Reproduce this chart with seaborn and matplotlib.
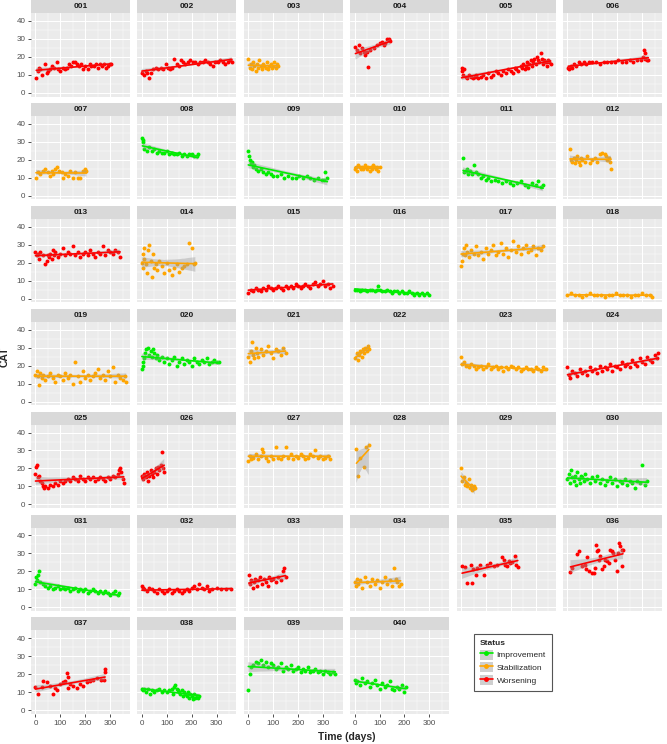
import numpy as np
import pandas as pd
import matplotlib
matplotlib.use("Agg")
import matplotlib.pyplot as plt
import seaborn as sns
from matplotlib.patches import Rectangle, Patch
from matplotlib.lines import Line2D
from matplotlib.collections import PolyCollection
from matplotlib.legend_handler import HandlerTuple

# ---------------- data ----------------
panel_ids = ["%03d" % i for i in range(1, 41)]
panel_status = ["W", "W", "S", "W", "W", "W",
                "S", "I", "I", "S", "I", "S",
                "W", "S", "W", "I", "S", "S",
                "S", "I", "S", "S", "S", "W",
                "W", "W", "S", "S", "S", "I",
                "I", "W", "W", "S", "W", "W",
                "W", "I", "I", "I"]
status_names = {"I": "Improvement", "S": "Stabilization", "W": "Worsening"}
status_colors = {"Improvement": "#00EE00", "Stabilization": "#FFA500", "Worsening": "#FF0000"}

d001 = [3,10,15,20,28,38,45,52,60,68,75,85,92,100,110,118,125,135,142,150,160,168,175,185,192,200,210,218,225,235,242,250,260,268,275,285,292,300,305]
c001 = [8,12,14,13,10,16,11,12,13,15,14,17,13,12,14,13,14,16,15,17,17,16,15,16,13,15,13,16,15,15,16,14,16,15,16,14,15,16,16]
d002 = [0,8,15,22,30,38,45,55,65,75,85,95,105,112,120,130,140,150,158,165,175,185,195,205,215,225,235,245,255,265,275,285,295,305,315,325,335,345,355,362]
c002 = [11,10,12,11,8,11,13,14,13,14,13,16,14,13,14,19,16,15,18,17,16,17,18,17,17,16,17,17,18,17,16,15,17,17,18,17,16,17,18,17]
d003 = [0,5,10,15,20,25,30,35,40,45,50,55,60,65,70,75,80,85,90,95,100,105,110,115,120]
c003 = [19,14,16,13,17,15,12,16,14,18,15,13,16,15,14,17,13,15,16,14,15,17,14,16,15]
d004 = [3,10,16,23,30,36,43,50,54,63,76,90,103,110,116,123,130,136,143]
c004 = [25.6,23.8,26.6,22.0,24.7,22.9,21.1,22.9,14.1,23.8,24.7,26.6,27.5,28.4,26.6,27.9,29.7,30.2,29.0]
d005 = [2,5,8,12,18,25,32,40,48,55,62,70,80,90,100,110,120,130,140,150,160,170,180,190,200,210,215,220,230,240,245,250,255,260,265,270,275,280,285,290,295,300,305,310,315,320,325,330,335,340,345,350,355,360]
c005 = [14,12,10,13,9,8,10,9,8,9,10,8,9,10,8,11,9,10,12,11,10,12,11,13,12,11,14,13,12,15,14,16,13,15,17,14,16,18,15,17,19,16,20,18,17,22,19,16,18,17,15,18,17,16]
d006 = [3,8,14,20,28,35,45,55,65,75,85,100,115,130,145,160,175,190,205,220,235,250,265,280,295,305,308,310,312,318,325]
c006 = [14,13,15,14,16,15,17,16,17,16,17,17,17,16,17,17,17,17,18,17,17,18,17,18,18,20,24,22,19,18,18]
d007 = [2,10,20,30,40,50,58,65,72,80,88,95,105,112,120,130,140,150,160,170,180,190,200,205]
c007 = [10,13,12,14,15,13,11,14,12,15,16,14,13,10,12,11,14,10,13,10,10,14,15,14]
d008 = [2,4,6,10,20,30,40,50,60,70,80,90,100,110,120,130,140,150,160,170,180,190,200,210,220,225]
c008 = [32,31,30,26,25,27,25,26,24,25,24,24,25,23,24,23,23,24,22,23,22,23,23,22,22,23]
d009 = [0,3,6,10,15,20,25,30,40,50,60,70,80,90,100,115,130,145,160,175,190,205,220,235,250,265,280,295,305,310,318]
c009 = [25,22,20,18,19,16,17,15,14,15,13,12,13,12,11,11,12,10,11,10,10,11,10,11,10,9,10,9,9,13,10]
d010 = [0,5,10,15,20,25,30,35,40,45,50,55,60,65,70,75,80,85,90,95,100]
c010 = [15,16,14,17,16,15,16,15,17,16,15,16,14,16,15,17,16,15,16,14,16]
d011 = [8,12,18,22,28,35,45,53,60,70,80,90,100,110,120,135,150,165,180,195,210,225,240,255,270,285,300,310,320,330]
c011 = [21,13,14,15,12,14,12,17,13,12,10,11,9,10,8,9,8,7,8,7,6,7,8,6,5,7,6,8,5,6]
d012 = [10,15,20,25,30,35,40,45,50,55,60,70,80,90,100,110,120,130,140,150,155,160,165,170,175]
c012 = [26,20,19,21,18,20,22,19,17,21,20,19,22,18,20,21,19,23,24,23,22,20,21,19,15]
d013 = [0,5,10,15,20,30,40,45,50,55,60,65,70,75,80,90,100,110,120,130,140,150,160,170,180,190,200,210,220,230,240,250,260,270,280,290,300,310,320,330,340]
c013 = [26,24,25,22,26,24,19,21,24,23,25,22,27,24,26,23,25,28,24,26,25,29,24,26,23,25,26,24,27,25,23,26,25,29,24,27,26,25,27,26,23]
d014 = [0,3,5,8,10,15,20,25,30,35,40,45,50,55,60,70,80,90,100,110,120,130,140,150,160,170,180,190,200,210,215]
c014 = [20,25,17,28,22,19,14,27,30,21,12,25,17,19,16,21,18,14,20,16,13,17,19,15,17,18,19,31,28,19,20]
d015 = [0,10,20,30,40,50,60,70,80,90,100,110,120,130,140,150,160,170,180,190,200,210,220,230,240,250,260,270,280,290,300,310,320,330,340]
c015 = [3,5,4,6,5,4,6,5,7,6,5,6,7,6,5,7,6,7,6,8,7,6,7,8,7,6,8,9,7,8,10,7,8,6,7]
d016 = [0,10,20,30,40,50,60,70,80,90,95,100,110,120,130,140,150,160,170,180,190,200,210,220,230,240,250,260,270,280,290,300]
c016 = [5,5,4,5,5,4,5,5,4,5,7,5,4,4,5,4,3,4,4,3,4,3,3,4,3,2,3,2,3,2,3,2]
d017 = [0,3,6,10,15,20,25,30,40,50,60,70,80,90,100,110,120,130,140,150,160,170,180,190,200,210,220,230,240,250,260,270,280,290,300,310,320,330]
c017 = [18,21,25,28,24,30,26,23,27,25,29,24,26,22,28,25,27,30,24,26,31,25,28,23,27,32,26,29,25,28,30,26,27,29,24,28,27,29]
d018 = [0,15,30,45,60,75,90,105,120,135,150,165,180,195,210,225,240,255,270,285,300,315,330,340]
c018 = [2,3,2,2,1,2,3,2,2,2,1,2,2,3,2,2,2,1,2,2,3,2,2,1]
d019 = [0,5,10,15,20,25,30,40,50,60,70,80,90,100,110,120,130,140,150,160,170,180,190,200,210,220,230,240,250,260,270,280,290,300,310,320,330,340,350,360,365]
c019 = [15,17,14,9,16,13,15,12,14,16,13,11,15,14,12,16,13,15,10,22,14,11,17,13,15,12,14,16,18,13,15,12,17,14,19,11,15,13,12,14,11]
d020 = [0,3,5,8,12,18,25,30,35,40,45,50,55,60,70,80,90,100,110,120,130,140,150,160,170,180,190,200,210,220,230,240,250,260,270,280,290,300,310]
c020 = [18,22,20,24,27,29,30,26,28,25,29,27,24,26,23,25,22,24,21,23,25,20,22,24,21,23,22,20,24,22,21,23,22,24,21,22,23,22,22]
d021 = [0,5,10,15,20,25,30,35,40,50,60,70,80,90,100,110,120,130,140,150]
c021 = [25,22,28,33,26,24,30,27,25,29,26,28,31,27,24,29,28,26,30,27]
d022 = [2,8,12,18,22,28,32,38,42,48,52,58]
c022 = [24,27,23,26,28,25,29,27,30,28,31,29]
d023 = [0,5,10,20,30,40,50,60,70,80,90,100,110,120,130,140,150,160,170,180,190,200,210,220,230,240,250,260,270,280,290,300,310,320,330,340]
c023 = [25,21,22,20,19,21,20,18,19,20,18,19,21,18,19,20,18,19,17,19,18,20,19,18,19,17,18,19,18,18,17,19,18,17,19,18]
d024 = [0,5,10,20,30,40,50,60,70,80,90,100,110,120,130,140,150,160,170,180,190,200,210,220,230,240,250,260,270,280,290,300,310,320,330,340,350,360,365]
c024 = [19,15,13,17,16,14,18,16,17,15,19,17,18,16,20,17,19,18,21,17,20,19,18,22,20,21,19,23,21,20,24,22,21,25,23,22,26,24,27]
d025 = [0,3,6,10,15,20,25,30,35,40,50,60,70,80,90,100,110,120,130,140,150,160,170,180,190,200,210,220,230,240,250,260,270,280,290,300,310,320,330,335,340,345,350,355]
c025 = [17,21,22,15,16,13,12,10,9,10,9,11,10,12,11,13,12,13,14,13,15,14,13,16,14,13,15,14,15,13,14,15,14,13,15,14,16,15,17,19,20,18,14,12]
d026 = [0,5,10,15,20,25,30,35,40,45,50,55,60,65,70,75,80,85,90]
c026 = [16,14,17,15,18,13,16,19,17,15,18,20,17,21,19,22,29,20,18]
d027 = [0,5,10,20,30,40,50,55,60,70,80,90,100,110,120,130,140,150,160,170,180,190,200,210,220,230,240,250,260,270,280,290,300,310,320,330]
c027 = [24,27,25,26,28,25,27,31,29,26,24,27,25,32,26,25,27,32,26,28,25,27,26,28,27,25,26,28,27,30,26,27,25,26,27,25]
d028 = [7,12,21,39,47,57]
c028 = [31,16,26,21,32,33]
d029 = [0,5,10,15,20,25,30,35,40,45,50,55]
c029 = [20,13,15,11,12,10,14,9,11,8,10,9]
d030 = [0,5,10,15,20,25,30,35,40,45,50,55,60,65,70,80,90,100,110,120,130,140,150,160,170,180,190,200,210,220,230,240,250,260,270,280,290,300,310,320]
c030 = [14,17,12,19,15,13,16,11,18,14,12,16,15,13,17,14,12,15,13,16,12,14,11,13,15,12,14,10,13,12,14,11,13,12,9,13,12,22,11,13]
d031 = [0,3,6,10,15,20,30,40,50,60,70,80,90,100,110,120,130,140,150,160,170,180,190,200,210,220,230,240,250,260,270,280,290,300,310,320,330,335]
c031 = [13,17,15,18,20,14,13,12,11,12,10,11,12,10,11,10,11,9,10,11,9,10,9,10,8,9,10,9,8,9,8,9,8,7,8,9,7,8]
d032 = [0,5,10,20,30,40,50,60,70,80,90,100,110,120,130,140,150,160,170,180,190,200,210,220,230,240,250,260,270,280,300,320,340,360]
c032 = [12,11,10,9,11,10,9,8,10,9,8,9,10,8,9,10,9,8,9,10,9,11,12,10,13,11,10,12,9,10,11,10,10,10]
d033 = [2,8,12,18,22,28,35,40,48,55,62,70,78,85,92,100,110,120,130,140,145,150]
c033 = [18,13,15,11,14,16,12,15,17,13,16,14,12,17,15,16,14,17,15,20,22,17]
d034 = [0,5,10,15,20,30,40,50,60,70,80,90,100,110,120,130,140,150,160,165,170,180,185]
c034 = [14,12,16,13,15,11,17,14,12,16,13,15,11,14,17,13,15,12,22,16,14,12,13]
d035 = [4,14,22,38,44,48,58,64,78,91,104,118,131,144,164,171,178,184,191,198,204,218,222,228]
c035 = [22.9,22.6,13.3,23.4,13.3,21.1,17.8,22.0,23.3,17.8,23.8,24.7,22.9,23.8,28.0,26.6,23.8,22.9,25.7,24.7,25.1,28.8,23.8,22.3]
d036 = [12,19,39,45,59,72,79,76,85,99,105,112,116,119,121,125,131,138,145,151,158,165,171,178,185,191,198,205,209,212,218,218,223]
c036 = [19.6,22.0,29.9,31.2,22.9,23.8,28.0,21.1,20.1,18.9,18.9,22.0,34.8,31.2,32.1,26.6,28.4,21.1,22.9,26.6,25.7,24.7,32.1,31.2,30.2,26.6,20.1,30.2,35.8,33.9,32.1,22.9,32.1]
d037 = [0,12,25,32,46,59,70,79,86,99,112,119,126,130,132,139,152,166,179,192,206,219,232,246,262,275,279,280]
c037 = [13.0,8.9,13.0,16.4,15.5,13.6,8.9,12.3,11.1,14.5,15.5,16.4,20.6,18.7,12.6,14.5,13.6,12.6,14.5,13.6,15.5,16.4,16.8,17.7,17.0,16.8,23.0,21.1]
d038 = [0,5,10,18,25,32,40,50,60,70,80,90,100,110,120,125,130,135,140,145,150,155,160,165,170,175,180,185,190,195,200,205,210,215,220,225,230]
c038 = [12,11,12,10,12,9,11,10,11,12,10,11,10,11,12,9,13,14,12,11,10,9,11,8,10,9,8,10,7,9,8,6,9,7,8,7,8]
d039 = [0,5,10,20,30,40,50,60,70,80,90,100,110,120,130,140,150,160,170,180,190,200,210,220,230,240,250,260,270,280,290,300,310,320,330,340,350]
c039 = [11,20,24,25,27,26,28,25,27,24,26,25,23,24,26,22,24,23,25,22,23,24,21,23,22,24,21,22,23,21,22,20,22,21,20,21,20]
d040 = [0,5,10,20,30,40,50,60,70,80,90,100,110,120,130,140,150,160,170,180,190,200,205]
c040 = [17,15,16,14,18,15,16,13,15,17,14,12,15,13,14,16,12,11,13,12,14,10,13]

days_all = [d001,d002,d003,d004,d005,d006,d007,d008,d009,d010,d011,d012,d013,d014,d015,d016,d017,d018,d019,d020,
            d021,d022,d023,d024,d025,d026,d027,d028,d029,d030,d031,d032,d033,d034,d035,d036,d037,d038,d039,d040]
cat_all = [c001,c002,c003,c004,c005,c006,c007,c008,c009,c010,c011,c012,c013,c014,c015,c016,c017,c018,c019,c020,
           c021,c022,c023,c024,c025,c026,c027,c028,c029,c030,c031,c032,c033,c034,c035,c036,c037,c038,c039,c040]

rows = []
for pid, st, dd, cc in zip(panel_ids, panel_status, days_all, cat_all):
    for x, y in zip(dd, cc):
        rows.append((pid, status_names[st], x, y))
df = pd.DataFrame(rows, columns=["id", "Status", "Time", "CAT"])

# ---------------- figure ----------------
sns.set_style("white")
plt.rcParams["font.family"] = ["Liberation Sans", "DejaVu Sans"]

W, H = 667, 744
fig, axes = plt.subplots(7, 6, figsize=(W / 100, H / 100), dpi=100, sharex=True, sharey=True)
fig.subplots_adjust(left=31 / W, right=662 / W, top=1 - 13 / H, bottom=1 - 714 / H,
                    wspace=0.0747, hspace=0.231)
axes_flat = axes.flatten()
for ax in axes_flat[40:]:
    fig.delaxes(ax)

strip_h = 13 / 83.6
for i, pid in enumerate(panel_ids):
    ax = axes_flat[i]
    sub = df[df["id"] == pid]
    st = sub["Status"].iloc[0]
    col = status_colors[st]
    ax.set_facecolor("#EBEBEB")
    sns.regplot(data=sub, x="Time", y="CAT", ax=ax, color=col, ci=95, seed=0, truncate=True,
                scatter_kws={"s": 8, "linewidths": 0, "alpha": 1},
                line_kws={"lw": 1.2})
    for coll in ax.collections:
        if isinstance(coll, PolyCollection):
            coll.set_facecolor("#999999")
            coll.set_alpha(0.4)
            coll.set_edgecolor("none")
    ax.set_xlabel("")
    ax.set_ylabel("")
    ax.set_xlim(-18, 380)
    ax.set_ylim(-2.1, 44.4)
    ax.set_xticks([0, 100, 200, 300])
    ax.set_xticks([50, 150, 250, 350], minor=True)
    ax.set_yticks([0, 10, 20, 30, 40])
    ax.set_yticks([5, 15, 25, 35], minor=True)
    ax.grid(which="major", color="white", lw=0.75)
    ax.grid(which="minor", color="white", lw=0.35)
    ax.set_axisbelow(True)
    for s in ax.spines.values():
        s.set_visible(False)
    r, c = divmod(i, 6)
    show_x = (r == 6)
    show_y = (c == 0)
    ax.tick_params(which="major", axis="x", bottom=show_x, labelbottom=show_x, length=2.5,
                   width=0.6, color="#333333", labelsize=5.8, labelcolor="#4D4D4D", pad=1.5)
    ax.tick_params(which="major", axis="y", left=show_y, labelleft=show_y, length=2.5,
                   width=0.6, color="#333333", labelsize=5.8, labelcolor="#4D4D4D", pad=1.5)
    ax.tick_params(which="minor", length=0)
    ax.add_patch(Rectangle((0, 1.0), 1, strip_h, transform=ax.transAxes, clip_on=False,
                           facecolor="#D9D9D9", edgecolor="none"))
    ax.text(0.5, 1 + strip_h / 2, pid, transform=ax.transAxes, ha="center", va="center",
            fontsize=6, fontweight="bold", color="#1A1A1A")

fig.text(5 / W, 1 - 357 / H, "CAT", rotation=90, ha="center", va="center",
         fontsize=7.5, fontweight="bold")
fig.text(346.5 / W, 1 - 737 / H, "Time (days)", ha="center", va="center",
         fontsize=7.5, fontweight="bold")

handles = []
labels = []
for name in ["Improvement", "Stabilization", "Worsening"]:
    handles.append((Patch(facecolor="#CFCFCF", edgecolor="none"),
                    Line2D([0], [0], color=status_colors[name], lw=1.2, marker="o", ms=2.5)))
    labels.append(name)
leg = fig.legend(handles, labels, title="Status", loc="upper left",
                 bbox_to_anchor=(470 / W, 1 - 630 / H), fontsize=6, title_fontsize=6,
                 handler_map={tuple: HandlerTuple(ndivide=1, pad=0)},
                 handlelength=1.5, handleheight=1.5, labelspacing=0.3, handletextpad=0.5,
                 borderpad=0.7, fancybox=False, framealpha=1, alignment="left")
leg.get_frame().set_edgecolor("#555555")
leg.get_frame().set_linewidth(0.8)
leg.get_title().set_fontweight("bold")

fig.savefig("out.png", dpi=100)
